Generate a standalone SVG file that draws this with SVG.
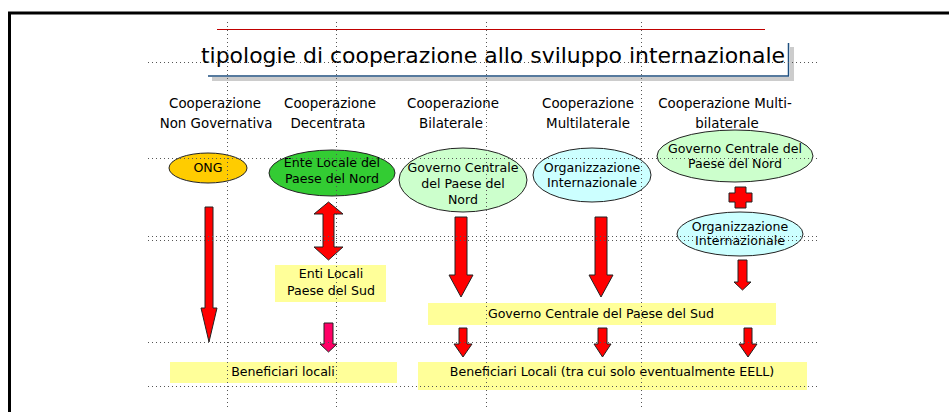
<svg xmlns="http://www.w3.org/2000/svg" width="949" height="412" viewBox="0 0 949 412">
<style>
text{font-family:"DejaVu Sans","Noto Sans",sans-serif;fill:#000;text-anchor:middle}
.hd{font-size:13.4px}
.nd{font-size:12.6px}
.ell{stroke:#222;stroke-width:1}
.box{fill:#FFFF99}
.arr{fill:#FF0000;stroke:#222;stroke-width:1}
.grid{stroke:#555;stroke-width:1;stroke-dasharray:1 3;fill:none}
</style>
<rect width="949" height="412" fill="#fff"/>
<!-- frame -->
<path d="M9.5,412 V13 H949" fill="none" stroke="#000" stroke-width="3"/>
<!-- title -->
<g id="title">
<line x1="217" y1="29.5" x2="765" y2="29.5" stroke="#C00000" stroke-width="1.2"/>
<rect x="212" y="77" width="582" height="4" fill="#CCCCCC"/>
<rect x="790" y="47" width="4" height="34" fill="#CCCCCC"/>
<path d="M208,76 H788.5 V43" fill="none" stroke="#1F4F7F" stroke-width="1.5"/>
<text x="493" y="63" font-size="21" textLength="584" lengthAdjust="spacingAndGlyphs">tipologie di cooperazione allo sviluppo internazionale</text>
</g>
<!-- headers -->
<g id="headers">
<text class="hd" x="215" y="108">Cooperazione</text>
<text class="hd" x="216" y="128">Non Governativa</text>
<text class="hd" x="330" y="108">Cooperazione</text>
<text class="hd" x="328" y="128">Decentrata</text>
<text class="hd" x="453" y="108">Cooperazione</text>
<text class="hd" x="451" y="128">Bilaterale</text>
<text class="hd" x="588" y="108">Cooperazione</text>
<text class="hd" x="588" y="128">Multilaterale</text>
<text class="hd" x="725" y="108">Cooperazione Multi-</text>
<text class="hd" x="727" y="128">bilaterale</text>
</g>
<!-- nodes -->
<g id="ong">
<ellipse class="ell" cx="208" cy="168" rx="39" ry="15" fill="#FFCC00"/>
<text class="nd" x="208" y="172">ONG</text>
</g>
<g id="ente-locale-nord">
<ellipse class="ell" cx="332" cy="173" rx="63" ry="23" fill="#33CC33"/>
<text class="nd" x="332" y="167">Ente Locale del</text>
<text class="nd" x="332" y="183">Paese del Nord</text>
</g>
<g id="governo-nord-bil">
<ellipse class="ell" cx="463" cy="180" rx="64" ry="32" fill="#CCFFCC"/>
<text class="nd" x="463" y="172">Governo Centrale</text>
<text class="nd" x="463" y="188">del Paese del</text>
<text class="nd" x="463" y="204">Nord</text>
</g>
<g id="org-int-multi">
<ellipse class="ell" cx="592" cy="175" rx="59" ry="27" fill="#CCFFFF"/>
<text class="nd" x="592" y="172">Organizzazione</text>
<text class="nd" x="592" y="187">Internazionale</text>
</g>
<g id="governo-nord-mb">
<ellipse class="ell" cx="735" cy="156" rx="78" ry="26" fill="#CCFFCC"/>
<text class="nd" x="735" y="153">Governo Centrale del</text>
<text class="nd" x="735" y="168">Paese del Nord</text>
</g>
<g id="plus">
<path class="arr" d="M735,187 H746 V193 H752 V202 H746 V208 H735 V202 H729 V193 H735 Z"/>
</g>
<g id="org-int-mb">
<ellipse class="ell" cx="740" cy="234" rx="63" ry="22" fill="#CCFFFF"/>
<text class="nd" x="740" y="231">Organizzazione</text>
<text class="nd" x="740" y="245">Internazionale</text>
</g>
<g id="enti-locali-sud">
<rect class="box" x="275" y="265" width="111" height="37"/>
<text class="nd" x="331" y="278">Enti Locali</text>
<text class="nd" x="331" y="295">Paese del Sud</text>
</g>
<g id="governo-sud">
<rect class="box" x="428" y="303" width="348" height="22"/>
<text class="nd" x="601" y="318">Governo Centrale del Paese del Sud</text>
</g>
<g id="beneficiari-locali">
<rect class="box" x="170" y="362" width="227" height="21"/>
<text class="nd" x="283" y="376">Beneficiari locali</text>
</g>
<g id="beneficiari-locali-eell">
<rect class="box" x="418" y="362" width="389" height="28"/>
<text class="nd" x="612" y="376">Beneficiari Locali (tra cui solo eventualmente EELL)</text>
</g>
<!-- connectors -->
<g id="connectors">
<path class="arr" d="M205,207 H213 V308 H217 L209,342 L201,308 H205 Z"/>
<path class="arr" d="M328.5,202 L343,214 H334 V247 H343 L328.5,260 L314,247 H323 V214 H314 Z"/>
<path class="arr" d="M455,217 H467 V275 H473 L461,297 L449,275 H455 Z"/>
<path class="arr" d="M595,217 H607 V275 H613 L601,297 L589,275 H595 Z"/>
<path class="arr" d="M738,260 H747 V282 H751 L742.5,290 L734,282 H738 Z"/>
<path class="arr" style="fill:#FF0066" d="M324,323 H333 V344 H337 L328.5,352 L320,344 H324 Z"/>
<path class="arr" d="M459,328 H467 V344 H472 L463,357 L454,344 H459 Z"/>
<path class="arr" d="M598,328 H607 V344 H611 L602.5,357 L594,344 H598 Z"/>
<path class="arr" d="M744,328 H752 V344 H757 L748,357 L739,344 H744 Z"/>
</g>
<!-- grid guides -->
<g id="grid" class="grid">
<line x1="148" y1="62.5" x2="820" y2="62.5"/>
<line x1="148" y1="158.5" x2="820" y2="158.5"/>
<line x1="148" y1="236.5" x2="820" y2="236.5"/>
<line x1="148" y1="240.5" x2="820" y2="240.5"/>
<line x1="148" y1="342.5" x2="820" y2="342.5"/>
<line x1="148" y1="386.5" x2="820" y2="386.5"/>
<line x1="227.5" y1="22" x2="227.5" y2="407"/>
<line x1="336.5" y1="22" x2="336.5" y2="407"/>
<line x1="486.5" y1="22" x2="486.5" y2="407"/>
<line x1="641.5" y1="22" x2="641.5" y2="407"/>
</g>
</svg>
